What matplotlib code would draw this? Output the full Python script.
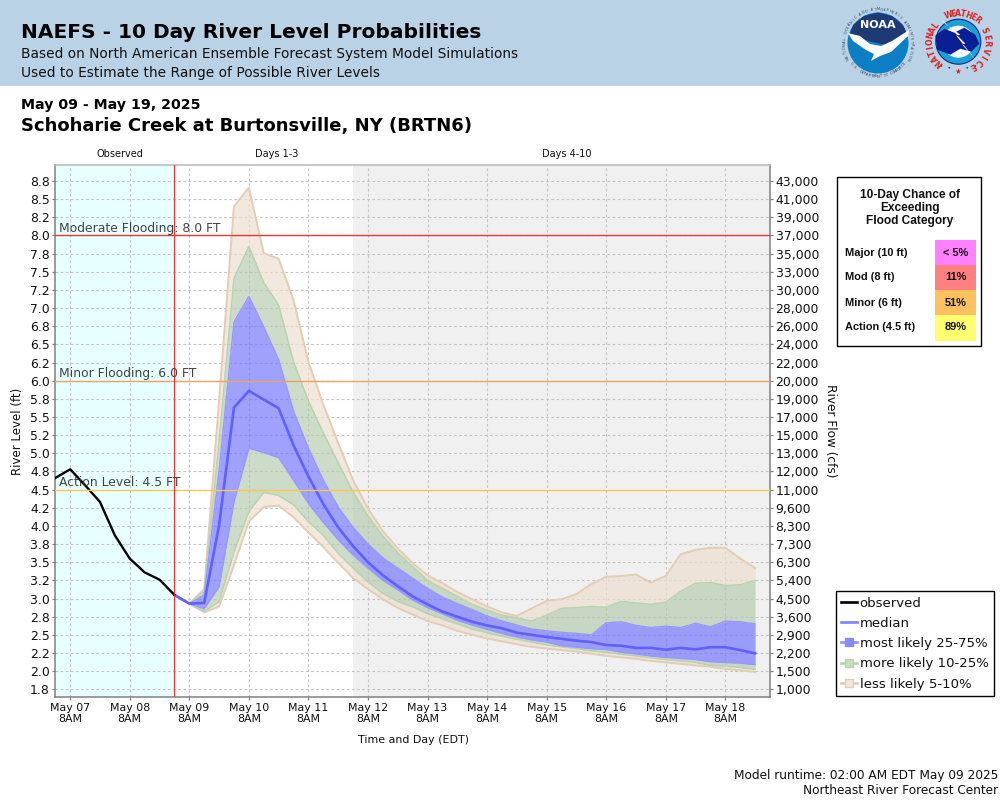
import numpy as np
import pandas as pd
import matplotlib
matplotlib.use("Agg")
import matplotlib.pyplot as plt
from matplotlib.lines import Line2D
from matplotlib.patches import Rectangle, Circle, Polygon

# ---------- data ----------
obs_start = "2025-05-07 02:00"
fc_start = "2025-05-09 02:00"
observed = [4.66, 4.78, 4.56, 4.33, 3.87, 3.55, 3.36, 3.26, 3.05]
median = [3.05, 2.93, 2.94, 4.01, 5.63, 5.86, 5.74, 5.62, 5.11, 4.68,
          4.30, 3.98, 3.72, 3.50, 3.32, 3.17, 3.03, 2.92, 2.82, 2.75,
          2.68, 2.63, 2.59, 2.53, 2.50, 2.47, 2.445, 2.42, 2.40, 2.36,
          2.35, 2.32, 2.32, 2.295, 2.32, 2.30, 2.33, 2.33, 2.29, 2.245]
p75 = [3.05, 2.93, 3.05, 4.76, 6.81, 7.16, 6.74, 6.29, 5.58, 5.07,
       4.63, 4.26, 3.98, 3.75, 3.56, 3.42, 3.28, 3.14, 3.02, 2.93,
       2.85, 2.76, 2.69, 2.635, 2.58, 2.555, 2.535, 2.52, 2.50, 2.665,
       2.68, 2.63, 2.60, 2.62, 2.60, 2.66, 2.61, 2.69, 2.68, 2.65]
p25 = [3.05, 2.93, 2.86, 3.16, 4.33, 5.07, 5.01, 4.94, 4.63, 4.31,
       4.05, 3.81, 3.60, 3.42, 3.25, 3.12, 2.98, 2.875, 2.79, 2.70,
       2.635, 2.575, 2.52, 2.47, 2.43, 2.40, 2.35, 2.33, 2.31, 2.30,
       2.26, 2.235, 2.21, 2.19, 2.175, 2.16, 2.13, 2.12, 2.11, 2.09]
p90 = [3.05, 2.93, 3.10, 5.17, 7.41, 7.85, 7.35, 7.04, 6.26, 5.72,
       5.28, 4.87, 4.47, 4.14, 3.86, 3.63, 3.44, 3.25, 3.14, 3.03,
       2.92, 2.84, 2.77, 2.735, 2.69, 2.77, 2.865, 2.875, 2.89, 2.88,
       2.96, 2.94, 2.92, 2.95, 3.10, 3.21, 3.22, 3.18, 3.19, 3.25]
p10 = [3.05, 2.93, 2.82, 2.96, 3.64, 4.20, 4.46, 4.42, 4.29, 4.06,
       3.87, 3.62, 3.42, 3.23, 3.07, 2.96, 2.885, 2.79, 2.72, 2.65,
       2.58, 2.53, 2.48, 2.44, 2.40, 2.36, 2.335, 2.31, 2.28, 2.26,
       2.235, 2.21, 2.185, 2.16, 2.14, 2.12, 2.08, 2.07, 2.05, 2.025]
p95 = [3.05, 2.93, 3.13, 5.73, 8.40, 8.66, 7.755, 7.68, 7.11, 6.26,
       5.67, 5.14, 4.63, 4.24, 3.93, 3.69, 3.49, 3.32, 3.21, 3.09,
       2.99, 2.89, 2.81, 2.76, 2.865, 2.97, 2.99, 3.06, 3.20, 3.30,
       3.31, 3.33, 3.22, 3.31, 3.61, 3.67, 3.70, 3.70, 3.55, 3.42]
p5 = [3.05, 2.93, 2.81, 2.89, 3.46, 4.06, 4.26, 4.28, 4.12, 3.91,
      3.71, 3.49, 3.28, 3.13, 2.99, 2.87, 2.78, 2.69, 2.63, 2.555,
      2.50, 2.45, 2.41, 2.37, 2.335, 2.31, 2.29, 2.27, 2.24, 2.21,
      2.19, 2.17, 2.14, 2.12, 2.10, 2.08, 2.06, 2.03, 2.01, 1.99]
stage_ticks = [1.75, 2.0, 2.25, 2.5, 2.75, 3.0, 3.25, 3.5, 3.75, 4.0, 4.25, 4.5, 4.75, 5.0, 5.25,
               5.5, 5.75, 6.0, 6.25, 6.5, 6.75, 7.0, 7.25, 7.5, 7.75, 8.0, 8.25, 8.5, 8.75]
stage_labels = ["1.8", "2.0", "2.2", "2.5", "2.8", "3.0", "3.2", "3.5", "3.8", "4.0", "4.2", "4.5", "4.8", "5.0", "5.2",
                "5.5", "5.8", "6.0", "6.2", "6.5", "6.8", "7.0", "7.2", "7.5", "7.8", "8.0", "8.2", "8.5", "8.8"]
flow_labels = ["1,000", "1,500", "2,200", "2,900", "3,600", "4,500", "5,400", "6,300", "7,300", "8,300",
               "9,600", "11,000", "12,000", "13,000", "15,000", "17,000", "19,000", "20,000", "22,000",
               "24,000", "26,000", "28,000", "30,000", "33,000", "35,000", "37,000", "39,000", "41,000", "43,000"]
flood_levels = [8.0, 6.0, 4.5]
flood_names = ["Moderate Flooding: 8.0 FT", "Minor Flooding: 6.0 FT", "Action Level: 4.5 FT"]
flood_colors = ["#E03A3A", "#E8A566", "#F4CB50"]
chance_rows = ["Major (10 ft)", "Mod (8 ft)", "Minor (6 ft)", "Action (4.5 ft)"]
chance_vals = ["< 5%", "11%", "51%", "89%"]
chance_cols = ["#FF80FF", "#FF8080", "#FFC060", "#FFFF70"]

W, H = 1000, 800
fig = plt.figure(figsize=(10, 8), dpi=100, facecolor="white")

def frac(x0, y0, x1, y1):
    return [x0 / W, 1 - y1 / H, (x1 - x0) / W, (y1 - y0) / H]

# ---------- main axes ----------
ax = fig.add_axes(frac(55.3, 165, 770, 697))
obs_t = pd.date_range(obs_start, periods=len(observed), freq="6h")
fc_t = pd.date_range(fc_start, periods=len(median), freq="6h")
x_left = pd.Timestamp("2025-05-07 02:00")
x_right = pd.Timestamp("2025-05-19 02:00")
ax.set_xlim(x_left, x_right)
ax.set_ylim(1.644, 8.97)

ax.axvspan(x_left, pd.Timestamp(fc_start), color="#E8FFFF", lw=0, zorder=0)
ax.axvspan(pd.Timestamp("2025-05-12 02:00"), x_right, color="#F0F0F0", lw=0, zorder=0)

day_ticks = pd.date_range("2025-05-07 08:00", "2025-05-18 08:00", freq="24h")
ax.set_xticks(day_ticks)
ax.set_xticklabels([d.strftime("%b %d") + "\n8AM" for d in day_ticks], fontsize=7.9, linespacing=1.2)
ax.set_yticks(stage_ticks)
ax.set_yticklabels(stage_labels, fontsize=8.9)
ax.grid(True, color="#C4C4C4", lw=0.8, ls=(0, (2.4, 2.2)), zorder=1)
ax.set_axisbelow(True)
ax.tick_params(axis="both", length=2.5, width=0.9, color="#808080", pad=1.5, labelcolor="#111111")

tan, green, blue = "#EDDECF", "#B4CBAD", "#7171FF"
A = 0.67
ax.fill_between(fc_t, p90, p95, color=tan, alpha=A, lw=0, zorder=2)
ax.fill_between(fc_t, p5, p10, color=tan, alpha=A, lw=0, zorder=2)
ax.fill_between(fc_t, p75, p90, color=green, alpha=A, lw=0, zorder=2)
ax.fill_between(fc_t, p10, p25, color=green, alpha=A, lw=0, zorder=2)
ax.fill_between(fc_t, p25, p75, color=blue, alpha=A, lw=0, zorder=2)
for s in (p95, p5):
    ax.plot(fc_t, s, color="#E2CDB5", lw=1.4, zorder=3, solid_joinstyle="miter")
for s in (p90, p10):
    ax.plot(fc_t, s, color="#BAD3AE", lw=1.1, zorder=3, solid_joinstyle="miter")
for s in (p75, p25):
    ax.plot(fc_t, s, color="#9898FF", lw=1.0, zorder=3, solid_joinstyle="miter")
ax.plot(fc_t, median, color="#6060FF", lw=1.9, zorder=4)
ax.plot(obs_t, observed, color="black", lw=1.7, zorder=5)

for lev, name, col in zip(flood_levels, flood_names, flood_colors):
    ax.axhline(lev, color=col, lw=1.0, zorder=6)
    ax.annotate(name, xy=(0, lev), xycoords=("axes fraction", "data"), xytext=(2.8, 0.4),
                textcoords="offset points", fontsize=8.95, color="#303030", alpha=0.9, zorder=7, va="bottom")
ax.axvline(pd.Timestamp(fc_start), color="#F03030", lw=0.85, zorder=6)

for side in ("left", "bottom", "right"):
    ax.spines[side].set_color("#808080")
    ax.spines[side].set_linewidth(1.1)
ax.spines["top"].set_color("#B8B8B8")
ax.spines["top"].set_linewidth(1.1)

ax2 = ax.twinx()
ax2.set_ylim(ax.get_ylim())
ax2.set_yticks(stage_ticks)
ax2.set_yticklabels(flow_labels, fontsize=8.9)
ax2.tick_params(axis="y", length=2.5, width=0.9, color="#808080", pad=1.5, labelcolor="#111111")
for sp in ax2.spines.values():
    sp.set_visible(False)

# ---------- overlay in pixel coordinates ----------
ov = fig.add_axes([0, 0, 1, 1], zorder=10)
ov.set_xlim(0, W)
ov.set_ylim(H, 0)
ov.axis("off")
ov.patch.set_alpha(0)
ov.add_patch(Rectangle((0, 0), W, 86, color="#BAD2E6", lw=0))

ov.text(21, 33, "NAEFS - 10 Day River Level Probabilities", fontsize=14.5, fontweight="bold", va="center", color="black")
ov.text(21, 54, "Based on North American Ensemble Forecast System Model Simulations", fontsize=9.9, va="center", color="#111111")
ov.text(21, 73, "Used to Estimate the Range of Possible River Levels", fontsize=9.9, va="center", color="#111111")
ov.text(21, 105, "May 09 - May 19, 2025", fontsize=10.2, fontweight="bold", va="center", color="black")
ov.text(21, 126, "Schoharie Creek at Burtonsville, NY (BRTN6)", fontsize=13.0, fontweight="bold", va="center", color="black")
ov.text(120, 154, "Observed", fontsize=7, ha="center", va="center", color="#111111")
ov.text(276.5, 154, "Days 1-3", fontsize=7, ha="center", va="center", color="#111111")
ov.text(567, 154, "Days 4-10", fontsize=7, ha="center", va="center", color="#111111")
ov.text(18, 431, "River Level (ft)", fontsize=8.5, rotation=90, ha="center", va="center", color="#111111")
ov.text(831, 431, "River Flow (cfs)", fontsize=8.7, rotation=-90, ha="center", va="center", color="#111111")
ov.text(413, 740, "Time and Day (EDT)", fontsize=7.9, ha="center", va="center", color="#111111")
ov.text(998, 775, "Model runtime: 02:00 AM EDT May 09 2025", fontsize=8.77, ha="right", va="center", color="#111111")
ov.text(998, 791, "Northeast River Forecast Center", fontsize=8.77, ha="right", va="center", color="#111111")

# chance table
ov.add_patch(Rectangle((836.5, 176.5), 144, 169, fc="white", ec="black", lw=1))
ov.text(910, 208, "10-Day Chance of\nExceeding\nFlood Category", family="Liberation Sans", fontweight="bold",
        fontsize=8.6, ha="center", va="center", linespacing=1.12, color="#111111")
row_tops = [240, 265, 290, 315]
row_hts = [25, 25, 25, 26]
for name, val, col, top, ht in zip(chance_rows, chance_vals, chance_cols, row_tops, row_hts):
    ov.add_patch(Rectangle((935, top), 41, ht, color=col, lw=0))
    ov.text(845, top + 12.5, name, family="Liberation Sans", fontweight="bold", fontsize=7.95, va="center", color="#111111")
    ov.text(955.5, top + 12.5, val, family="Liberation Sans", fontweight="bold", fontsize=7.95, ha="center", va="center", color="#111111")

def ring(text, cx, cy, r, a0, a1, flip=False, **kw):
    angs = np.linspace(a0, a1, len(text))
    for ch, a in zip(text, angs):
        rad = np.deg2rad(a)
        rot = 180 - a if flip else -a
        ov.text(cx + r * np.sin(rad), cy - r * np.cos(rad), ch, rotation=rot,
                rotation_mode="anchor", ha="center", va="center", **kw)

# NOAA logo
nx, ny = 878, 43
ov.add_patch(Circle((nx, ny), 30.5, fc="#0C7EC4", ec="none"))
ov.add_patch(Polygon([(nx - 25, ny - 18), (nx - 14, ny - 27), (nx, ny - 30.5), (nx + 14, ny - 27), (nx + 25, ny - 18),
                      (nx + 29, ny - 9), (nx + 8, ny + 2), (nx - 10, ny - 2), (nx - 28, ny - 9)], fc="#1D3A72", lw=0))
ov.add_patch(Polygon([(nx - 30, ny - 10), (nx - 18, ny - 7), (nx - 8, ny + 1), (nx + 3, ny + 3), (nx + 14, ny - 2),
                      (nx + 31, ny - 13), (nx + 30, ny - 7), (nx + 13, ny + 9), (nx + 2, ny + 13), (nx - 7, ny + 18),
                      (nx - 4, ny + 11), (nx - 12, ny + 7), (nx - 25, ny - 2)], fc="white", lw=0))
ov.text(nx, ny - 18, "NOAA", fontsize=8, fontweight="bold", color="white", ha="center", va="center")
ring("NATIONAL OCEANIC AND ATMOSPHERIC ADMINISTRATION", nx, ny, 33.5, -118, 118, fontsize=2.5, color="#2A3F5F")
ring("U.S. DEPARTMENT OF COMMERCE", nx, ny, 33.5, 232, 128, flip=True, fontsize=2.5, color="#2A3F5F")

# NWS logo
wx, wy = 958.3, 41.7
ov.add_patch(Circle((wx, wy), 22.5, fc="#1DA0D8", ec="#0B2A8C", lw=0.8))
ov.add_patch(Circle((wx, wy), 16, fc="#F2F7FA", ec="none"))
ov.add_patch(Polygon([(wx - 23, wy - 6), (wx - 14, wy - 13), (wx - 4, wy - 9), (wx + 6, wy - 14), (wx + 17, wy - 7),
                      (wx + 21, wy + 2), (wx + 13, wy + 10), (wx + 2, wy + 7), (wx - 8, wy + 13), (wx - 21, wy + 8)],
                     fc="#0A1E96", lw=0))
ov.add_patch(Polygon([(wx - 17, wy - 21), (wx + 2, wy - 7), (wx - 2, wy - 6), (wx + 18, wy + 19), (wx + 4, wy + 3),
                      (wx + 7, wy + 2), (wx - 13, wy - 19)], fc="white", lw=0))
ring("NATIONAL", wx, wy, 28, -137, -54, fontsize=5.6, fontweight="bold", color="#E02020")
ring("WEATHER", wx, wy, 28, -20, 41, fontsize=5.6, fontweight="bold", color="#E02020")
ring("SERVICE", wx, wy, 28, 66, 149, fontsize=5.6, fontweight="bold", color="#E02020")
ov.text(wx, wy + 29.5, "\u2605", fontsize=5.5, color="#E02020", ha="center", va="center")
for dx in (-17, -9, 9, 17):
    ov.add_patch(Circle((wx + dx, wy + 28 - abs(dx) * 0.22), 0.9, fc="#1D3A9C", lw=0))

# legend
handles = [
    Line2D([], [], color="black", lw=1.9),
    Line2D([], [], color="#8080FF", lw=1.9),
    Line2D([], [], color="#9090F8", lw=1.9, marker="s", ms=6, mfc="#8A8AFF", mec="#8A8AFF"),
    Line2D([], [], color="#BAD3AE", lw=1.9, marker="s", ms=6, mfc="#C6DCBE", mec="#BAD3AE"),
    Line2D([], [], color="#E2CDB5", lw=1.9, marker="s", ms=6, mfc="#F2E8DE", mec="#E2CDB5"),
]
labels = ["observed", "median", "most likely 25-75%", "more likely 10-25%", "less likely 5-10%"]
leg = fig.legend(handles, labels, loc="upper left", bbox_to_anchor=(835.5 / W, 1 - 591 / H), fontsize=9.5,
                 frameon=True, fancybox=False, edgecolor="black", framealpha=1, borderpad=0.42, labelspacing=0.55,
                 handlelength=1.22, handletextpad=0.18, borderaxespad=0, labelcolor="#111111")
leg.get_frame().set_linewidth(1)
leg.set_zorder(20)

fig.savefig("out.png", dpi=100)
